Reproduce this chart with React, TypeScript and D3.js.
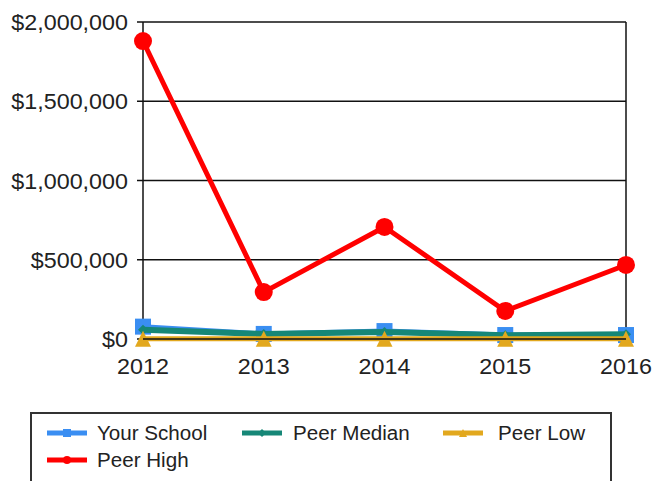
import React from "react";
import * as d3 from "d3";

const years = ["2012", "2013", "2014", "2015", "2016"];
const yourSchool = [78000, 32000, 50000, 25000, 25000];
const peerMedian = [58000, 32000, 44000, 24000, 30000];
const peerLow = [2000, 2000, 2000, 2000, 2000];
const peerHigh = [1880000, 296000, 707000, 177000, 467000];
const yTicks = [0, 500000, 1000000, 1500000, 2000000];

const series = [
  { name: "Your School", values: yourSchool, color: "#3A8EF2", width: 5, marker: "square" },
  { name: "Peer Median", values: peerMedian, color: "#168777", width: 6, marker: "diamond" },
  { name: "Peer Low", values: peerLow, color: "#E2A81E", width: 5, marker: "triangle" },
  { name: "Peer High", values: peerHigh, color: "#FF0000", width: 5, marker: "circle" },
];

const L = 143, R = 626, T = 22, B = 339;
const SX = 1.06;

function Marker({ type, x, y, color, size }: any) {
  if (type === "square") return <rect x={x - size / 2} y={y - size / 2} width={size} height={size} fill={color} />;
  if (type === "circle") return <circle cx={x} cy={y} r={size / 2} fill={color} />;
  if (type === "diamond") {
    const s = size / 2;
    return <path d={`M${x},${y - s}L${x + s},${y}L${x},${y + s}L${x - s},${y}Z`} fill={color} />;
  }
  const s = size / 2;
  return <path d={`M${x},${y - s}L${x + s},${y + s}L${x - s},${y + s}Z`} fill={color} />;
}

export default function App() {
  const x = d3.scalePoint<string>().domain(years).range([L, R]);
  const y = d3.scaleLinear().domain([0, 2000000]).range([B, T]);
  const fmt = (v: number) => "$" + d3.format(",")(v);
  const line = d3.line<number>().x((_, i) => x(years[i])!).y((v) => y(v));
  const markerSize: any = { square: 16, diamond: 10, triangle: 16, circle: 18 };

  const legendItems = [
    { s: series[0], lx: 47, tx: 97, y: 433 },
    { s: series[1], lx: 242, tx: 293, y: 433 },
    { s: series[2], lx: 443, tx: 498, y: 433 },
    { s: series[3], lx: 47, tx: 97, y: 460 },
  ];

  return (
    <svg width={652} height={481} style={{ position: "absolute", left: 0, top: 0, background: "#fff" }}
      fontFamily="'Liberation Sans', Arial, sans-serif">
      <rect x={0} y={0} width={652} height={481} fill="#fff" />
      {yTicks.map((t) => (
        <g key={t}>
          <line x1={L - 6} x2={R} y1={y(t)} y2={y(t)} stroke="#111" strokeWidth={1.5} />
          <g transform={`translate(128,${y(t) + 8}) scale(${SX},1)`}>
            <text textAnchor="end" fontSize={22} fill="#222">{fmt(t)}</text>
          </g>
        </g>
      ))}
      <line x1={L} x2={L} y1={T} y2={B + 4} stroke="#111" strokeWidth={1.5} />
      <line x1={R} x2={R} y1={T} y2={B + 4} stroke="#111" strokeWidth={1.5} />
      {years.map((yr) => (
        <g key={yr} transform={`translate(${x(yr)},374) scale(${SX},1)`}>
          <text textAnchor="middle" fontSize={22} fill="#222">{yr}</text>
        </g>
      ))}
      {series.map((s) => (
        <g key={s.name}>
          <path d={line(s.values)!} fill="none" stroke={s.color} strokeWidth={s.width} strokeLinejoin="round" />
          {s.values.map((v, i) => (
            <Marker key={i} type={s.marker} x={x(years[i])!} y={y(v)} color={s.color} size={markerSize[s.marker]} />
          ))}
        </g>
      ))}
      <line x1={L} x2={R} y1={B} y2={B} stroke="#111" strokeWidth={1.5} />
      <rect x={31} y={413} width={580} height={90} fill="none" stroke="#333" strokeWidth={2} />
      {legendItems.map(({ s, lx, tx, y: ly }) => (
        <g key={s.name}>
          <line x1={lx} x2={lx + 40} y1={ly} y2={ly} stroke={s.color} strokeWidth={5} />
          <Marker type={s.marker} x={lx + 20} y={ly} color={s.color} size={8} />
          <g transform={`translate(${tx},${ly + 7}) scale(1.03,1)`}>
            <text fontSize={20} fill="#222">{s.name}</text>
          </g>
        </g>
      ))}
    </svg>
  );
}
